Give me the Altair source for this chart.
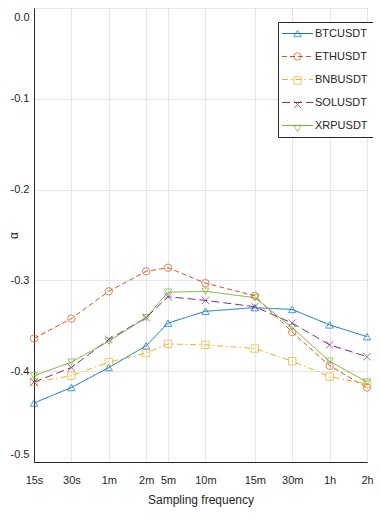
import altair as alt
import pandas as pd

freq_labels = ["15s", "30s", "1m", "2m", "5m", "10m", "15m", "30m", "1h", "2h"]
freq_pos = [0, 1, 2, 3, 3.585, 4.585, 5.907, 6.907, 7.907, 8.907]

series_names = ["BTCUSDT", "ETHUSDT", "BNBUSDT", "SOLUSDT", "XRPUSDT"]
btc = [-0.435, -0.418, -0.396, -0.372, -0.347, -0.334, -0.330, -0.332, -0.349, -0.362]
eth = [-0.364, -0.342, -0.312, -0.290, -0.286, -0.303, -0.317, -0.357, -0.394, -0.418]
bnb = [-0.412, -0.405, -0.390, -0.380, -0.370, -0.371, -0.375, -0.389, -0.406, -0.414]
sol = [-0.412, -0.396, -0.365, -0.341, -0.318, -0.322, -0.329, -0.347, -0.371, -0.384]
xrp = [-0.405, -0.390, -0.367, -0.341, -0.313, -0.312, -0.319, -0.352, -0.389, -0.412]

colors = ["#0072BD", "#D95319", "#EDB120", "#7E2F8E", "#77AC30"]
dashes = [[1, 0], [5, 3], [6, 3, 1.5, 3], [8, 4], [1, 0]]
shapes = ["triangle-up", "circle", "square", "M-1,-1L1,1M-1,1L1,-1", "triangle-down"]

rows = []
for name, vals in zip(series_names, [btc, eth, bnb, sol, xrp]):
    for lab, pos, v in zip(freq_labels, freq_pos, vals):
        rows.append({"series": name, "series_p": name, "freq": lab, "pos": pos, "alpha": v})
df = pd.DataFrame(rows)

label_expr = " : ".join(
    f"abs(datum.value - {p}) < 0.01 ? '{l}'" for p, l in zip(freq_pos, freq_labels)
) + " : ''"

font = "Liberation Sans"
ink = "#262626"

x = alt.X(
    "pos:Q",
    scale=alt.Scale(domain=[0, freq_pos[-1]], nice=False, zero=False),
    axis=alt.Axis(
        values=freq_pos, labelExpr=label_expr, title="Sampling frequency",
        grid=True, gridColor="#e6e6e6", domainColor=ink, ticks=False,
        labelColor=ink, titleColor=ink, labelFontSize=11, titleFontSize=12,
        labelFont=font, titleFont=font, titleFontWeight="normal",
        labelPadding=12, titlePadding=9, labelFlush=False,
    ),
)
y = alt.Y(
    "alpha:Q",
    scale=alt.Scale(domain=[-0.5, 0.0], nice=False, zero=False),
    axis=alt.Axis(
        values=[0.0, -0.1, -0.2, -0.3, -0.4, -0.5],
        labelExpr="replace(format(datum.value, '.1f'), '\u2212', '-')",
        title="α", grid=True, gridColor="#e6e6e6", domainColor=ink, ticks=False,
        labelColor=ink, titleColor=ink, labelFontSize=11, titleFontSize=12,
        labelFont=font, titleFont=font, titleFontWeight="normal",
        labelPadding=5, titleX=-21, titleBaseline="middle",
        labelFlush=True, labelFlushOffset=-3,
    ),
)

leg_x, leg_y = 244, 14
sym_size = 55
common_legend = dict(
    title=None, orient="none", legendX=leg_x, legendY=leg_y, padding=6,
    labelFont=font, labelFontSize=11, symbolSize=sym_size, symbolStrokeWidth=1,
    rowPadding=11, symbolOffset=8, labelOffset=12,
)
color_line = alt.Color(
    "series:N", scale=alt.Scale(domain=series_names, range=colors),
    legend=alt.Legend(
        fillColor="white", strokeColor=ink, labelColor=ink,
        symbolType="M-4.2,0L4.2,0", **common_legend,
    ),
)
dash_line = alt.StrokeDash("series:N", scale=alt.Scale(domain=series_names, range=dashes))
color_pt = alt.Color(
    "series_p:N", scale=alt.Scale(domain=series_names, range=colors),
    legend=alt.Legend(
        labelColor="transparent", labelExpr="''", symbolFillColor="transparent",
        **common_legend,
    ),
)
shape_pt = alt.Shape("series_p:N", scale=alt.Scale(domain=series_names, range=shapes))

lines = alt.Chart(df).mark_line(strokeWidth=1).encode(
    x=x, y=y, color=color_line, strokeDash=dash_line, detail="series:N"
)
points = alt.Chart(df).mark_point(filled=False, size=sym_size, strokeWidth=1).encode(
    x=x, y=y, color=color_pt, shape=shape_pt
)

chart = alt.layer(lines, points).resolve_scale(
    color="independent", strokeDash="independent", shape="independent"
).properties(
    width=333, height=454,
    autosize=alt.AutoSizeParams(type="none"),
    padding={"left": 26, "top": 0, "right": 6, "bottom": 46},
).configure_view(stroke=ink, strokeWidth=1)

chart.save("out.html", embed_options={"renderer": "svg", "actions": False})
